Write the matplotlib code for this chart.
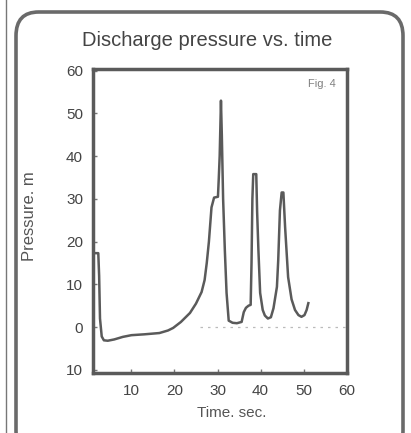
import matplotlib
matplotlib.use("Agg")
import matplotlib.pyplot as plt
from matplotlib.patches import FancyBboxPatch
from matplotlib.lines import Line2D

plt.rcParams['font.family'] = ['Liberation Sans', 'DejaVu Sans']

title = "Discharge pressure vs. time"
xlabel = "Time. sec."
ylabel = "Pressure. m"
xticks = [10, 20, 30, 40, 50, 60]
xticklabels = ["10", "20", "30", "40", "50", "60"]
yticks = [-10, 0, 10, 20, 30, 40, 50, 60]
yticklabels = ["10", "0", "10", "20", "30", "40", "50", "60"]

time = [1.0, 2.3, 2.5, 2.7, 3.1, 3.6, 4.5, 6.0, 8.0, 10.0, 13.0, 16.5, 18.5, 19.7,
        21.5, 23.6, 25.0, 26.3, 27.0, 27.5, 28.0, 28.6, 29.2, 30.1, 30.3, 30.5,
        30.8, 31.0, 31.3, 31.7, 32.1, 32.6, 33.5, 34.5, 35.6, 36.1, 36.6, 37.2,
        37.7, 37.9, 38.1, 38.3, 39.0, 39.2, 39.5, 39.9, 40.5, 41.0, 41.7, 42.4,
        43.0, 43.8, 44.1, 44.5, 44.9, 45.3, 45.7, 46.4, 47.2, 48.0, 48.8, 49.5,
        50.2, 50.7, 51.1]
pressure = [17.3, 17.3, 12.0, 2.0, -2.2, -3.1, -3.2, -2.9, -2.3, -1.9, -1.7, -1.4, -0.8, -0.2,
            1.2, 3.3, 5.5, 8.2, 11.0, 15.0, 20.0, 28.0, 30.3, 30.5, 35.0, 40.0,
            53.0, 45.0, 30.0, 18.0, 8.0, 1.5, 1.0, 0.9, 1.2, 3.5, 4.5, 5.0,
            5.2, 15.0, 30.0, 35.8, 35.8, 27.0, 18.0, 8.0, 4.0, 2.7, 2.0, 2.3,
            4.4, 9.4, 15.6, 27.3, 31.5, 31.5, 23.4, 11.7, 6.5, 4.0, 2.8, 2.4,
            2.8, 4.0, 5.6]

dot_x = [26, 60.1]
dot_y = [0, 0]

fig = plt.figure(figsize=(4.11, 4.33), dpi=100)
fig.patch.set_facecolor('white')

# outer rounded frame and page edge line
frame = FancyBboxPatch((16/411, -0.05), (403-16)/411, 1 - 12/433 + 0.05,
                       boxstyle="round,pad=0,rounding_size=0.055",
                       transform=fig.transFigure, fill=False,
                       edgecolor='#6a6a6a', linewidth=2.6, zorder=0)
fig.patches.append(frame)
fig.lines.append(Line2D([6/411, 6/411], [0, 1], transform=fig.transFigure,
                        color='#777777', linewidth=1.0))

ax = fig.add_axes([0.2255, 0.1386, 0.619, 0.702])
ax.plot(dot_x, dot_y, color='#bbbbbb', linewidth=0.9, linestyle=(0, (2, 4)))
ax.plot(time, pressure, color='#5a5a5a', linewidth=1.8, solid_joinstyle='round')

ax.set_xlim(1.0, 60.1)
ax.set_ylim(-10.75, 60.4)
ax.set_xticks(xticks)
ax.set_xticklabels(xticklabels)
ax.set_yticks(yticks)
ax.set_yticklabels(yticklabels)
ax.tick_params(direction='in', length=3, width=1, color='#777777',
               labelcolor='#444444', labelsize=11)
ax.tick_params(axis='x', pad=8)
ax.tick_params(axis='y', pad=7)
for s in ax.spines.values():
    s.set_color('#5a5a5a')
    s.set_linewidth(2.5)

ax.text(0.9, 0.95, "Fig. 4", transform=ax.transAxes, fontsize=8,
        color='#808080', ha='center', va='center')

fig.text(0.504, 0.906, title, ha='center', va='center', fontsize=14.5, color='#444444')
fig.text(0.071, 0.501, ylabel, ha='center', va='center', rotation=90,
         fontsize=12, color='#555555')
fig.text(0.564, 0.046, xlabel, ha='center', va='center', fontsize=11, color='#555555')

fig.savefig("out.png", dpi=100, facecolor='white')
